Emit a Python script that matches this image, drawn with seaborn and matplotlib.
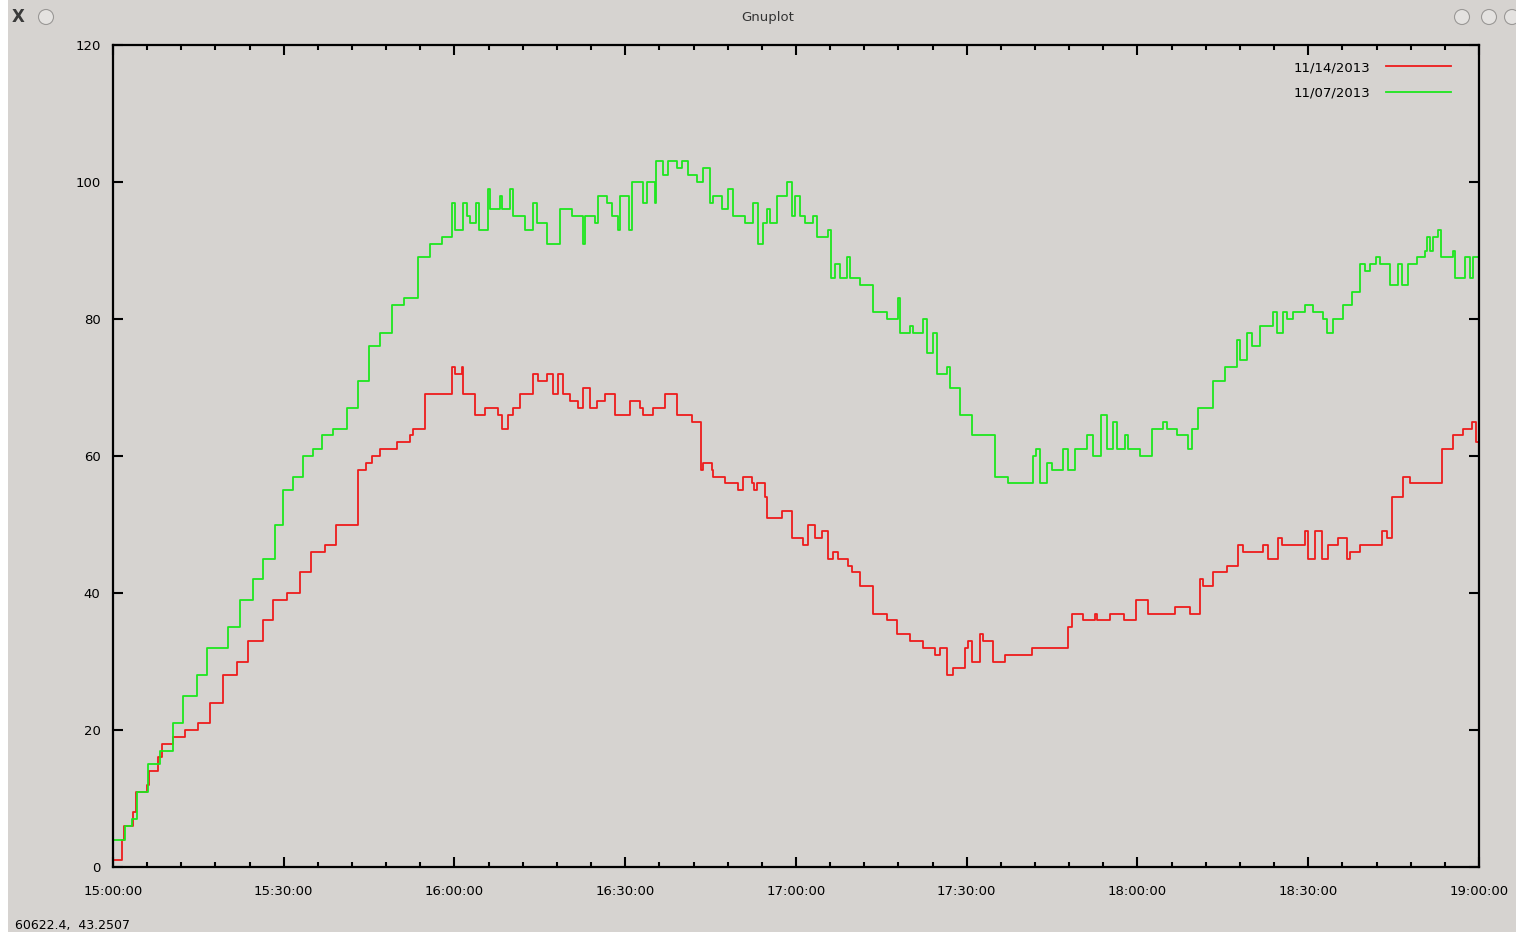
import matplotlib
matplotlib.use("Agg")
import matplotlib.pyplot as plt
from matplotlib.patches import Ellipse, Rectangle
import pandas as pd
import seaborn as sns

# minutes after 15:00 where the value changes, and the value held from there
green_min = [0.0, 2.1, 3.3, 4.2, 6.1, 8.3, 10.5, 12.3, 14.8, 16.5, 20.2, 22.3, 24.6, 26.4,
             28.5, 29.9, 31.6, 33.4, 35.1, 36.7, 38.7, 41.1, 43.0, 45.0, 46.9, 49.0, 51.1,
             53.6, 55.7, 57.8, 59.6, 60.1, 61.5, 62.2, 62.7, 63.8, 64.3, 65.9, 66.2, 68.0,
             68.3, 69.7, 70.3, 72.4, 73.8, 74.5, 76.2, 78.5, 80.6, 82.6, 82.9, 84.7, 85.2,
             86.8, 87.7, 88.7, 89.1, 90.7, 91.2, 93.1, 93.8, 95.2, 95.4, 96.6, 97.5, 99.1,
             100.0, 101.0, 102.6, 103.7, 104.9, 105.4, 107.0, 108.0, 108.9, 111.0, 112.4,
             113.3, 114.2, 114.9, 115.4, 116.7, 118.4, 119.3, 119.8, 120.7, 121.6, 123.0,
             123.7, 125.6, 126.1, 126.8, 127.7, 129.0, 129.5, 131.2, 133.5, 136.0, 137.9,
             138.3, 140.0, 140.6, 142.3, 143.0, 144.1, 144.8, 146.5, 147.0, 148.8, 150.9,
             155.0, 157.2, 161.6, 162.2, 162.9, 164.1, 165.0, 166.9, 167.8, 169.0, 171.1,
             172.2, 173.6, 174.6, 175.7, 176.4, 177.8, 178.3, 180.4, 182.5, 184.5, 185.2,
             186.9, 188.9, 189.6, 190.6, 193.3, 195.4, 197.5, 198.0, 199.2, 200.1, 201.5,
             203.8, 204.5, 205.6, 206.3, 207.3, 209.4, 210.8, 212.6, 213.3, 214.3, 216.1,
             217.7, 219.1, 220.0, 220.8, 221.9, 222.6, 224.4, 225.8, 226.5, 227.5, 229.1,
             230.5, 230.9, 231.4, 232.0, 232.8, 233.3, 235.4, 235.7, 237.5, 238.4, 238.9,
             240.0]
green_val = [4, 6, 7, 11, 15, 17, 21, 25, 28, 32, 35, 39, 42, 45,
             50, 55, 57, 60, 61, 63, 64, 67, 71, 76, 78, 82, 83,
             89, 91, 92, 97, 93, 97, 95, 94, 97, 93, 99, 96, 98,
             96, 99, 95, 93, 97, 94, 91, 96, 95, 91, 95, 94, 98,
             97, 95, 93, 98, 93, 100, 97, 100, 97, 103, 101, 103, 102,
             103, 101, 100, 102, 97, 98, 96, 99, 95, 94, 97,
             91, 94, 96, 94, 98, 100, 95, 98, 95, 94, 95,
             92, 93, 86, 88, 86, 89, 86, 85, 81, 80, 83,
             78, 79, 78, 80, 75, 78, 72, 73, 70, 66, 63,
             57, 56, 60, 61, 56, 59, 58, 61, 58, 61, 63,
             60, 66, 61, 65, 61, 63, 61, 60, 64, 65, 64,
             63, 61, 64, 67, 71, 73, 77, 74, 78, 76, 79,
             81, 78, 81, 80, 81, 82, 81, 80, 78, 80, 82,
             84, 88, 87, 88, 89, 88, 85, 88, 85, 88, 89,
             90, 92, 90, 92, 93, 89, 90, 86, 89, 86, 89,
             89]

red_min = [0.0, 1.6, 1.9, 3.5, 4.0, 6.0, 6.3, 7.9, 8.6, 10.5, 12.6, 14.9, 17.0, 19.3,
           21.8, 23.7, 26.4, 28.1, 30.6, 32.9, 34.8, 37.2, 39.2, 43.0, 44.4, 45.5, 46.9,
           49.9, 52.2, 52.7, 54.8, 59.6, 60.1, 61.3, 61.5, 63.6, 65.4, 67.6, 68.3, 69.4,
           70.3, 71.5, 73.8, 74.7, 76.2, 77.3, 78.2, 79.1, 80.3, 81.7, 82.6, 83.8, 85.0,
           86.4, 88.2, 90.8, 92.6, 93.1, 94.9, 97.0, 99.1, 101.7, 103.3, 103.7, 105.2,
           105.4, 107.5, 109.8, 110.7, 112.3, 112.6, 113.1, 114.5, 114.9, 117.5, 119.3,
           121.2, 122.1, 123.3, 124.6, 125.6, 126.5, 127.4, 129.1, 129.8, 131.2, 133.5,
           136.0, 137.7, 140.0, 142.3, 144.4, 145.3, 146.5, 147.6, 149.7, 150.2, 150.9,
           152.3, 152.9, 154.6, 156.7, 161.5, 167.8, 168.5, 170.4, 172.5, 172.9, 175.2,
           177.6, 179.7, 181.9, 186.6, 189.2, 191.0, 191.5, 193.3, 195.7, 197.6, 198.5,
           202.1, 202.9, 204.7, 205.4, 209.4, 209.9, 211.2, 212.4, 213.5, 215.2, 216.8,
           217.3, 219.1, 222.9, 223.8, 224.7, 226.6, 227.9, 233.5, 235.4, 237.2, 238.8,
           239.5, 240.0]
red_val = [1, 4, 6, 8, 11, 12, 14, 16, 18, 19, 20, 21, 24, 28,
           30, 33, 36, 39, 40, 43, 46, 47, 50, 58, 59, 60, 61,
           62, 63, 64, 69, 73, 72, 73, 69, 66, 67, 66, 64, 66,
           67, 69, 72, 71, 72, 69, 72, 69, 68, 67, 70, 67, 68,
           69, 66, 68, 67, 66, 67, 69, 66, 65, 58, 59, 58,
           57, 56, 55, 57, 56, 55, 56, 54, 51, 52, 48,
           47, 50, 48, 49, 45, 46, 45, 44, 43, 41, 37,
           36, 34, 33, 32, 31, 32, 28, 29, 32, 33, 30,
           34, 33, 30, 31, 32, 35, 37, 36, 37, 36, 37,
           36, 39, 37, 38, 37, 42, 41, 43, 44, 47, 46,
           47, 45, 48, 47, 49, 45, 49, 45, 47, 48, 45,
           46, 47, 49, 48, 54, 57, 56, 61, 63, 64, 65,
           62, 62]

tick_min = [0, 30, 60, 90, 120, 150, 180, 210, 240]
tick_labels = ["15:00:00", "15:30:00", "16:00:00", "16:30:00", "17:00:00",
               "17:30:00", "18:00:00", "18:30:00", "19:00:00"]
y_ticks = [0, 20, 40, 60, 80, 100, 120]

bg = "#d6d3d0"
red = "#ee1c1c"
green = "#1ee61e"

df = pd.concat([
    pd.DataFrame({"minute": red_min, "value": red_val, "day": "11/14/2013"}),
    pd.DataFrame({"minute": green_min, "value": green_val, "day": "11/07/2013"}),
])

fig = plt.figure(figsize=(15.16, 9.32), dpi=100, facecolor=bg)
ax = fig.add_axes([0.0745, 0.0697, 0.9011, 0.882])
ax.set_facecolor(bg)

sns.lineplot(data=df, x="minute", y="value", hue="day",
             palette={"11/14/2013": red, "11/07/2013": green},
             drawstyle="steps-post", linewidth=1.3, estimator=None, sort=False, ax=ax)

ax.set_xlim(0, 240)
ax.set_ylim(0, 120)
ax.set_xticks(tick_min)
ax.set_xticklabels(tick_labels)
ax.set_xticks(range(0, 241, 6), minor=True)
ax.set_yticks(y_ticks)
ax.set_xlabel("")
ax.set_ylabel("")
ax.tick_params(which="both", direction="in", top=True, right=True,
               labelsize=9.5, colors="black", width=1.5)
ax.tick_params(which="major", length=7, pad=13)
ax.tick_params(which="minor", length=3.5)
ax.tick_params(axis="y", pad=9)
for s in ax.spines.values():
    s.set_linewidth(1.6)
    s.set_color("black")

ax.legend(loc="upper right", frameon=False, markerfirst=False, fontsize=9.5,
          handlelength=4.9, handletextpad=1.2, labelspacing=0.95,
          borderaxespad=0.5, bbox_to_anchor=(0.988, 0.995))

# window chrome
fig.patches.append(Rectangle((0, 0), 8 / 1516, 1, transform=fig.transFigure,
                             facecolor="white", edgecolor="none"))
fig.text(768 / 1516, 1 - 18 / 932, "Gnuplot", ha="center", va="center", fontsize=9.5, color="#333333")
fig.text(18 / 1516, 1 - 17 / 932, "X", ha="center", va="center", fontsize=12,
         fontweight="bold", color="#3a3a3a")
for cx in [46, 1462, 1489, 1512]:
    fig.patches.append(Ellipse((cx / 1516, 1 - 17 / 932), 15 / 1516, 15 / 932,
                               transform=fig.transFigure, facecolor="#e4e2e0",
                               edgecolor="#9a9896", linewidth=0.8))
fig.text(15 / 1516, 1 - 926 / 932, "60622.4,  43.2507", ha="left", va="center",
         fontsize=9, color="black")

fig.savefig("out.png", dpi=100, facecolor=bg)
